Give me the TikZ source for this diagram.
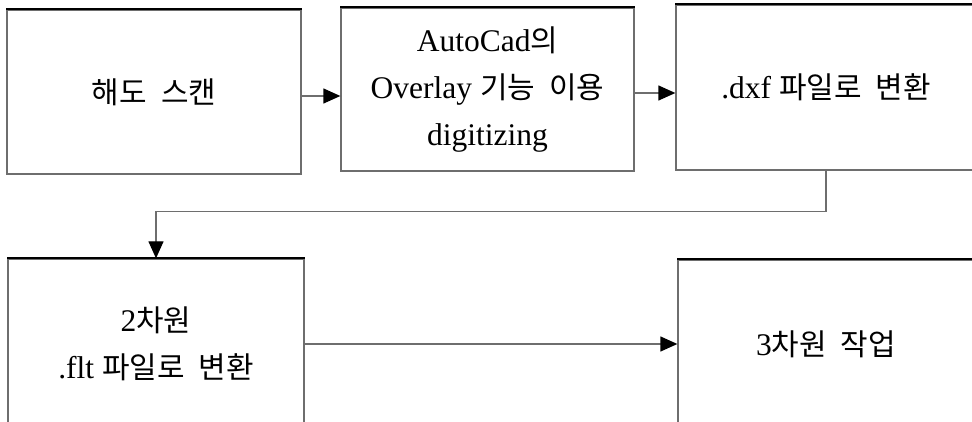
\documentclass[tikz,border=0pt]{standalone}
\usepackage{fontspec}
\setmainfont{Liberation Serif}
\newfontfamily\kofont{Noto Sans CJK KR}[Scale=0.95, WordSpace=2.1]
\newcommand{\ko}[1]{{\kofont #1}}
\usetikzlibrary{arrows.meta}
\definecolor{linegray}{RGB}{110,110,110}
\tikzset{
  box/.style={draw=linegray, line width=1.3pt, inner sep=0pt, align=center,
    font=\fontsize{31.5}{47}\selectfont},
  topedge/.style={draw=black, line width=2pt},
  conn/.style={draw=linegray, line width=1.3pt},
  arr/.style={conn, -{Triangle[length=17pt,width=15pt,color=black]}}
}
\begin{document}
\begin{tikzpicture}[x=1pt, y=-1pt]
  \useasboundingbox (0,0) rectangle (972,422);
  \clip (0,0) rectangle (972,422);

  % process boxes
  \node[box, minimum width=294pt, minimum height=164pt] (b1) at (154,92)
    {\ko{해도 스캔}};
  \node[box, minimum width=293pt, minimum height=163pt] (b2) at (487.5,89.5)
    {AutoCad\ko{의}\\Overlay \ko{기능 이용}\\digitizing};
  \node[box, minimum width=300pt, minimum height=165pt] (b3) at (826,87.5)
    {.dxf \ko{파일로 변환}};
  \node[box, minimum width=296pt, minimum height=170pt] (b4) at (156,344)
    {2\ko{차원}\\.flt \ko{파일로 변환}};
  \node[box, minimum width=296pt, minimum height=168pt] (b5) at (826,344)
    {3\ko{차원 작업}};

  % darker top edges
  \foreach \b in {b1,b2,b3,b4,b5}
    \draw[topedge] (\b.north west) -- (\b.north east);

  % connectors
  \draw[arr] (b1.east |- 0,96) -- (b2.west |- 0,96);
  \draw[arr] (b2.east |- 0,93) -- (b3.west |- 0,93);
  \draw[arr] (b3.south) -- ++(0,41) -| (b4.north);
  \draw[arr] (b4.east) -- (b5.west);
\end{tikzpicture}
\end{document}
